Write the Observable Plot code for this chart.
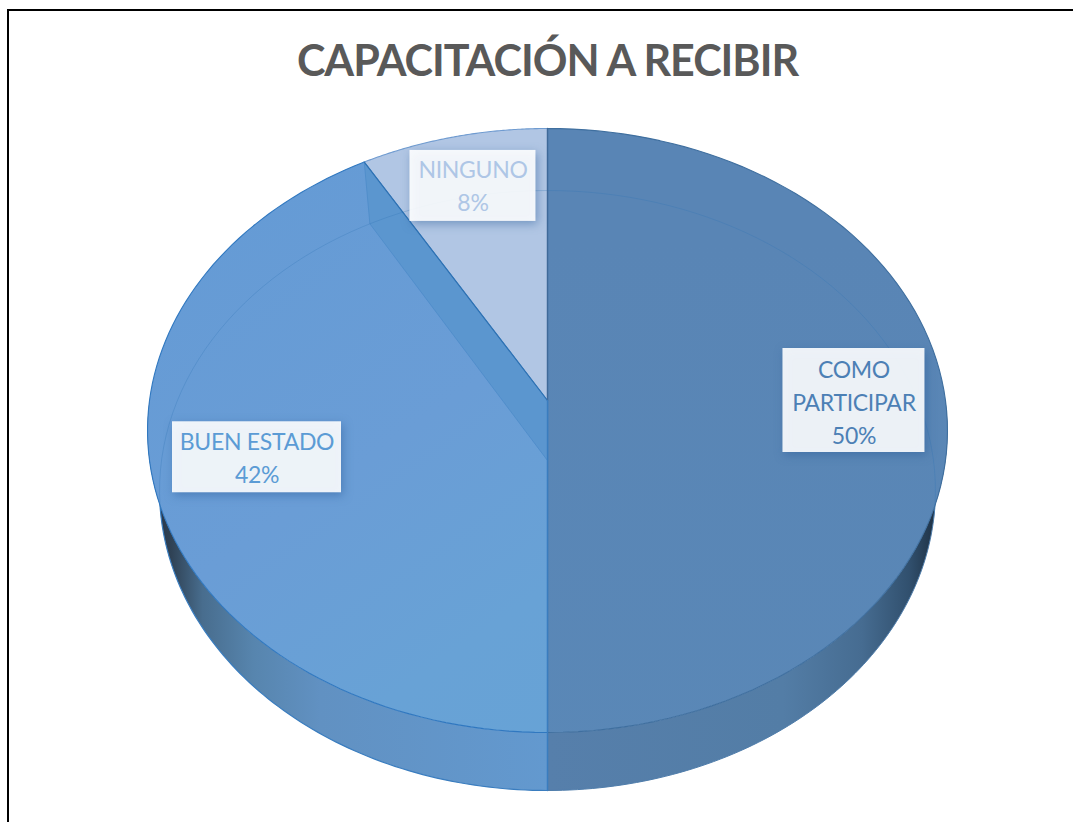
<!DOCTYPE html>
<html lang="es">
<head>
<meta charset="utf-8">
<script src="https://cdn.jsdelivr.net/npm/d3@7"></script>
<script src="https://cdn.jsdelivr.net/npm/@observablehq/plot@0.6"></script>
<style>
  html, body { margin: 0; padding: 0; background: #fff; overflow: hidden; }
  #frame { position: absolute; left: 7px; top: 9px; width: 1066px; height: 813px; border-left: 2px solid #000; border-top: 2px solid #000; box-sizing: border-box; pointer-events: none; }
  h1 { margin: 0; height: 110px; width: 1095px; text-align: center; font: 700 43px Lato, sans-serif; letter-spacing: -1px; color: #595959; line-height: 120px; }
  #chart svg { display: block; }
  #chart text { letter-spacing: -0.3px; }
</style>
</head>
<body>
<div id="frame"></div>
<h1>CAPACITACIÓN A RECIBIR</h1>
<div id="chart"></div>
<script>
const categories = ["COMO\nPARTICIPAR", "BUEN ESTADO", "NINGUNO"];
const shares = [6, 5, 1];
const faceFills = ["url(#faceDark)", "url(#faceMid)", "#b1c6e4"];
const faceEdges = ["#3f6f9f", "#3078c0", "#6f9bd0"];
const labelInks = ["#4c80b5", "#5b9bd5", "#aec6e6"];
const labelRadius = [0.77, 0.745, 0.8];
const labelShiftX = [0, 1.5, 2];
const labelShiftY = [0, -2, 0];
const textLift = [0, 1, 2];
const labelBoxes = [[142, 104], [169, 71], [126, 71]];

// Perspective of the tilted disc: maps the unit circle to the picture.
const disc = (cx, apexY, backY, frontY, halfWidth) => {
  const c = (frontY + backY - 2 * apexY) / (frontY - backY);
  const a = backY * (1 + c) - apexY;
  return (u, v) => ({x: cx + halfWidth * u / (1 + c * v), y: (a * v + apexY) / (1 + c * v)});
};
const topDisc = disc(547, 400, 128, 732, 398);
const baseDisc = disc(547, 460, 190, 790, 386);

const turn = (f) => f * 2 * Math.PI;
const onDisc = (d, f, r = 1) => d(r * Math.sin(turn(f)), r * Math.cos(turn(f)));
const arc = (d, f0, f1, n = 90) => d3.range(n + 1).map((i) => onDisc(d, f0 + (f1 - f0) * i / n));

const total = d3.sum(shares);
const starts = d3.cumsum([0, ...shares]).map((s) => s / total);
const slices = categories.map((name, i) => ({name, i, f0: starts[i], f1: starts[i + 1], share: shares[i] / total}));

const faces = slices.map((s) => [onDisc(topDisc, s.f0, 0), ...arc(topDisc, s.f0, s.f1)]);
const seam = slices[2];
const innerWall = [onDisc(topDisc, seam.f0, 0), onDisc(topDisc, seam.f0), onDisc(baseDisc, seam.f0), onDisc(baseDisc, seam.f0, 0)];
const rim = (f0, f1) => [...arc(topDisc, f0, f1), ...arc(baseDisc, f1, f0)];
const rims = [rim(0.25, 0.5), rim(0.5, 0.75)];
const baseBack = arc(baseDisc, 0.72, 1.28);

const labels = slices.map((s) => {
  const p = onDisc(topDisc, (s.f0 + s.f1) / 2, labelRadius[s.i]);
  const x = p.x + labelShiftX[s.i], y = p.y + labelShiftY[s.i];
  const [w, h] = labelBoxes[s.i];
  return {x, y, ty: y - textLift[s.i], x1: x - w / 2, x2: x + w / 2, y1: y - h / 2, y2: y + h / 2,
          text: `${s.name}\n${Math.round(s.share * 100)}%`, ink: labelInks[s.i]};
});

const poly = (pts, options) => Plot.line(pts, {x: "x", y: "y", curve: "linear-closed", ...options});

const defs = () => {
  const g = d3.create("svg:defs");
  const grad = (id, attrs, stops) => {
    const l = g.append("linearGradient").attr("id", id).attr("gradientUnits", "userSpaceOnUse");
    Object.entries(attrs).forEach(([k, v]) => l.attr(k, v));
    stops.forEach(([o, c]) => l.append("stop").attr("offset", o).attr("stop-color", c));
  };
  grad("rimRight", {x1: 547, x2: 940, y1: 0, y2: 0}, [[0, "#567fab"], [0.6, "#537da6"], [0.8, "#466c91"], [0.92, "#31506e"], [1, "#1b2c3d"]]);
  grad("rimLeft", {x1: 155, x2: 547, y1: 0, y2: 0}, [[0, "#26354a"], [0.04, "#2f4255"], [0.12, "#486d8e"], [0.25, "#5785ae"], [0.42, "#6191c2"], [1, "#6399cf"]]);
  grad("faceDark", {x1: 0, x2: 0, y1: 128, y2: 732}, [[0, "#5985b5"], [1, "#5a88b7"]]);
  grad("faceMid", {x1: 150, x2: 547, y1: 163, y2: 732}, [[0, "#659bd5"], [0.4, "#6a9dd6"], [0.7, "#68a2d6"], [1, "#66a3d6"]]);
  return g.node();
};

const edge = "#3a7dbf";
const chart = Plot.plot({
  width: 1073,
  height: 712,
  margin: 0,
  x: {domain: [0, 1073], range: [0, 1073], axis: null},
  y: {domain: [110, 822], range: [0, 712], axis: null},
  marks: [
    defs,
    poly(rims[0], {fill: "url(#rimRight)", stroke: "none"}),
    poly(rims[1], {fill: "url(#rimLeft)", stroke: "none"}),
    Plot.line(arc(baseDisc, 0.5, 0.75), {x: "x", y: "y", stroke: edge, strokeWidth: 1.2}),
    Plot.line(arc(baseDisc, 0.25, 0.5), {x: "x", y: "y", stroke: "#4f7dab", strokeWidth: 1}),
    Plot.line([onDisc(topDisc, 0.5), onDisc(baseDisc, 0.5)], {x: "x", y: "y", stroke: edge, strokeWidth: 1.5}),
    ...faces.map((pts, i) => poly(pts, {fill: faceFills[i], stroke: faceEdges[i], strokeWidth: 1.1})),
    poly(innerWall, {fill: "#5b96cf", stroke: "#4d8cc9", strokeWidth: 0.8}),
    Plot.line(baseBack, {x: "x", y: "y", stroke: "#2e72b3", strokeOpacity: 0.28, strokeWidth: 1}),
    Plot.line([onDisc(topDisc, seam.f0, 0), onDisc(topDisc, seam.f0)], {x: "x", y: "y", stroke: "#2e72b3", strokeWidth: 1.2}),
    Plot.line([onDisc(topDisc, 0, 0), onDisc(topDisc, 0)], {x: "x", y: "y", stroke: "#3f6a99", strokeWidth: 1.4}),
    Plot.line([onDisc(topDisc, 0.5, 0), onDisc(topDisc, 0.5)], {x: "x", y: "y", stroke: edge, strokeWidth: 1.4}),
    Plot.rect(labels, {x1: "x1", x2: "x2", y1: "y1", y2: "y2", fill: "#fff", fillOpacity: 0.9, imageFilter: "drop-shadow(2px 3px 5px rgba(40,90,150,.5))"}),
    Plot.text(labels, {x: "x", y: "ty", text: "text", fill: "ink", fontSize: 23, lineHeight: 1.43, fontFamily: "Lato, sans-serif"})
  ]
});
document.getElementById("chart").append(chart);
</script>
</body>
</html>
